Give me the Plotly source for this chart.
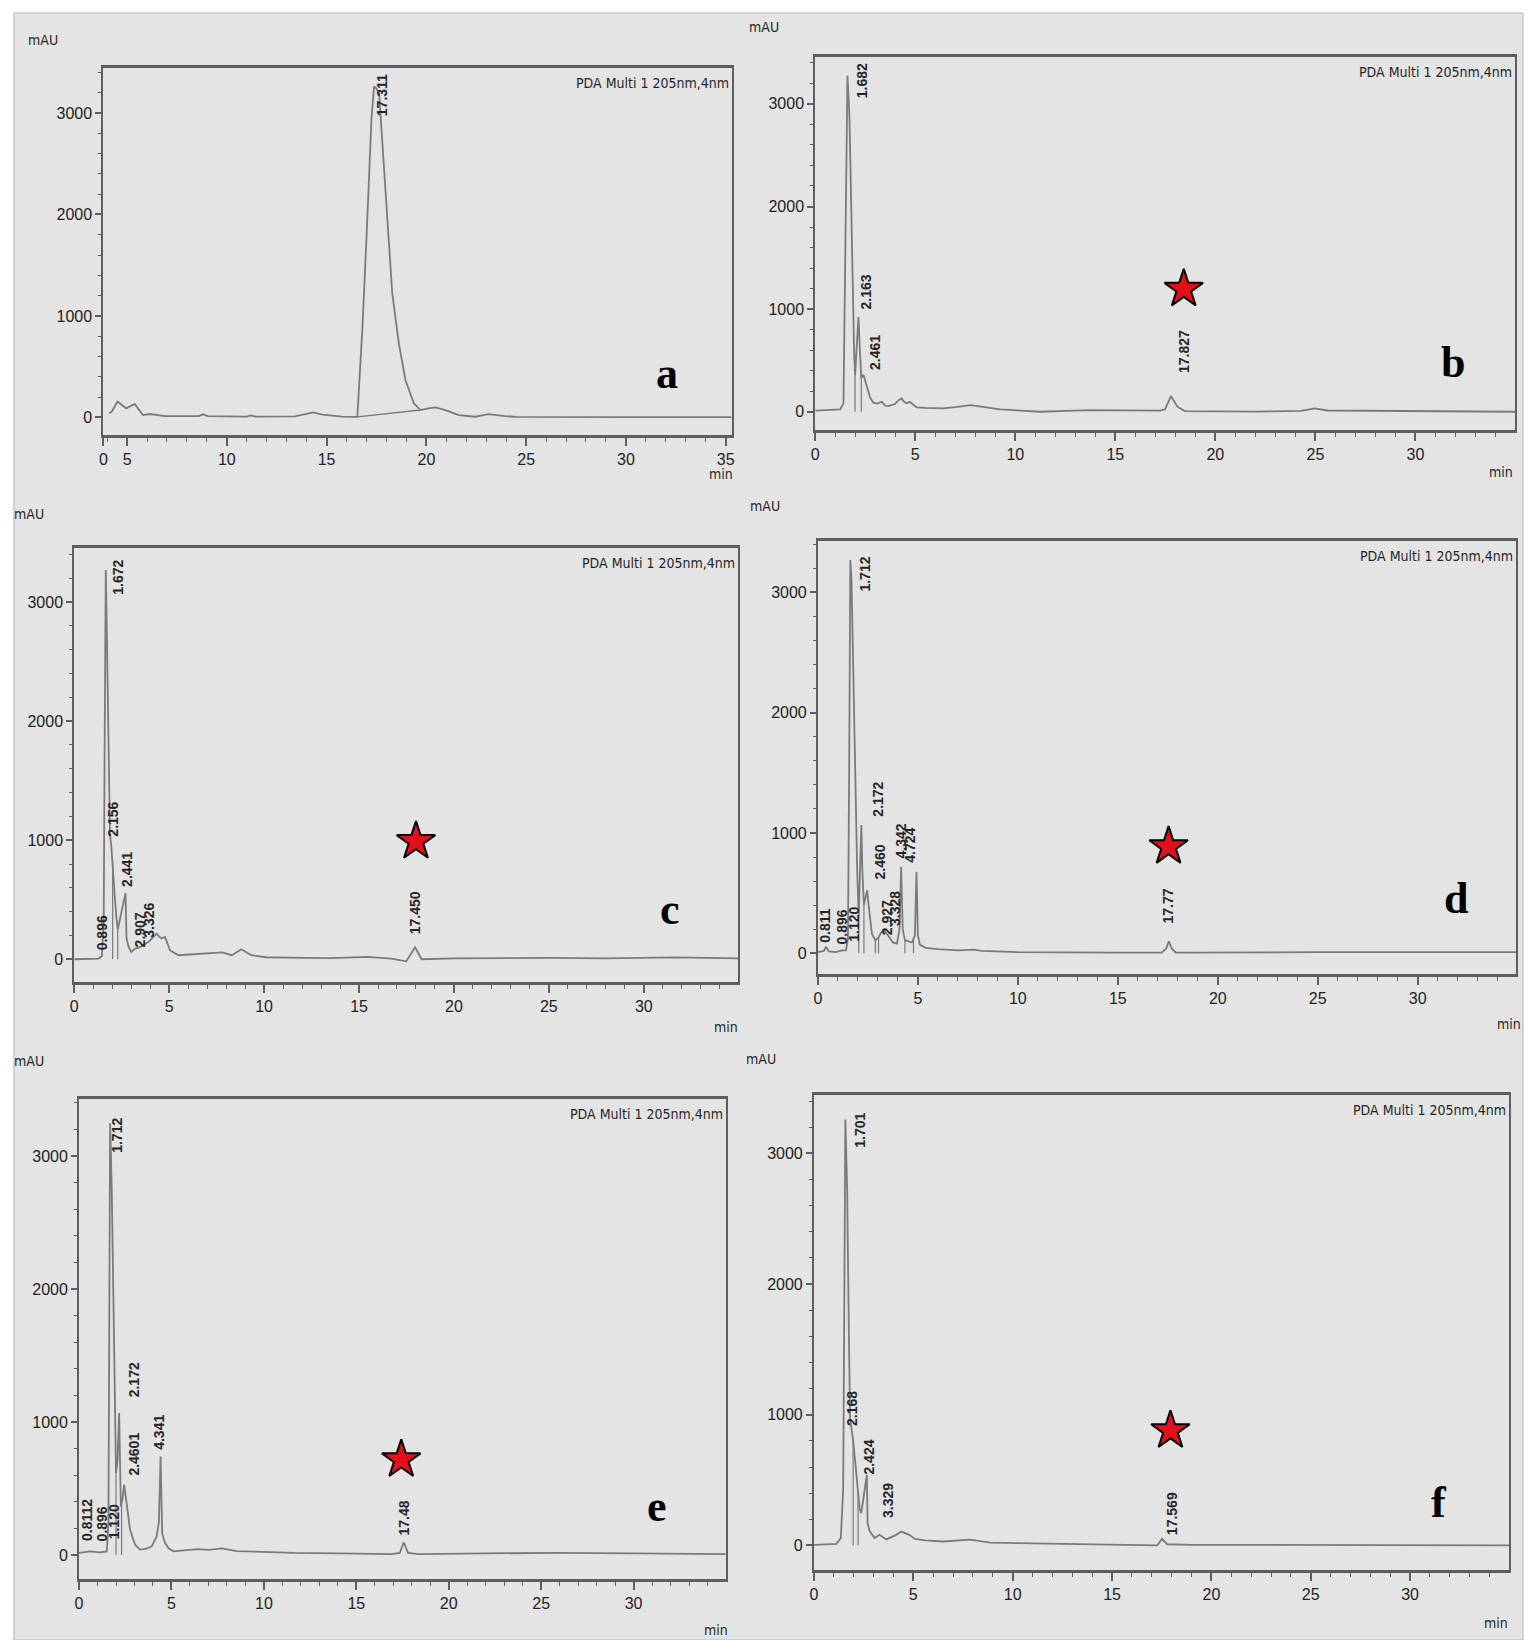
import numpy as np
import plotly.graph_objects as go

W, H = 1526, 1640
BG = '#e4e4e4'
LINE = '#7a7a7a'
FRAME = '#5e5e5e'
TXT = '#262626'

# ---------------- data (time [min], signal [mAU]) ----------------
t_a = [4.1, 4.23, 4.52, 4.95, 5.38, 5.79, 6.15, 6.9, 8.6, 8.8, 9.04, 11.0, 11.2, 11.44, 13.4, 13.85,
       14.33, 14.8, 15.77, 16.54, 16.8, 17.05, 17.25, 17.38, 17.5, 17.63, 17.79, 18.04, 18.29, 18.62,
       18.95, 19.37, 19.71, 20.1, 20.45, 20.95, 21.62, 22.45, 23.1, 23.94, 24.5, 30.0, 35.3]
y_a = [40, 56, 155, 89, 132, 23, 33, 13, 13, 30, 13, 7, 20, 7, 10, 26,
       49, 26, 7, 5, 900, 2000, 2950, 3263, 3240, 3198, 2705, 1882, 1224, 730,
       368, 138, 72, 89, 99, 72, 22, 6, 32, 13, 5, 3, 3]

t_b = [0, 1.245, 1.41, 1.52, 1.61, 1.71, 1.83, 1.94, 1.99, 2.08, 2.16, 2.24, 2.3, 2.41, 2.57, 2.74,
       2.9, 3.1, 3.32, 3.5, 3.65, 3.98, 4.15, 4.32, 4.45, 4.57, 4.73, 4.9, 5.06, 5.5, 6.39, 7.0, 7.75,
       8.3, 9.24, 11.24, 13.74, 17.23, 17.48, 17.78, 18.1, 18.47, 22.0, 24.3, 24.96, 25.6, 30.0, 35.0]
y_b = [10, 23, 82, 1600, 3275, 2870, 1573, 600, 357, 700, 924, 560, 330, 360, 250, 140,
       88, 80, 97, 60, 55, 75, 110, 130, 95, 82, 97, 70, 43, 38, 33, 45, 65,
       50, 23, 0, 16, 10, 23, 153, 49, 6, 2, 8, 33, 12, 5, 0]

t_c = [0, 1.28, 1.45, 1.55, 1.6, 1.66, 1.72, 1.8, 1.88, 1.95, 2.02, 2.1, 2.2, 2.29, 2.5, 2.7, 2.75,
       2.85, 3.0, 3.2, 3.45, 3.73, 3.95, 4.17, 4.34, 4.47, 4.6, 4.78, 4.9, 5.04, 5.48, 6.0, 6.7, 7.4,
       7.79, 8.3, 8.8, 9.32, 10.1, 12.1, 13.5, 15.45, 16.7, 17.49, 17.95, 18.3, 20.0, 25.0, 28.0, 31.6, 35.0]
y_c = [0, 6, 25, 300, 1800, 3269, 2700, 1700, 1050, 950, 800, 560, 380, 250, 400, 555, 180,
       110, 60, 90, 100, 132, 150, 187, 216, 190, 174, 187, 140, 76, 34, 40, 48, 53,
       58, 34, 84, 34, 17, 12, 10, 20, 6, -17, 101, 0, 8, 12, 8, 15, 8]

t_d = [0, 0.3, 0.4, 0.55, 0.9, 1.2, 1.4, 1.5, 1.56, 1.62, 1.68, 1.75, 1.84, 1.96, 2.04, 2.1, 2.17,
       2.22, 2.3, 2.4, 2.46, 2.52, 2.6, 2.7, 2.87, 3.03, 3.15, 3.3, 3.5, 3.75, 3.95, 4.08, 4.16, 4.24,
       4.35, 4.5, 4.7, 4.85, 4.93, 5.0, 5.1, 5.4, 6.0, 7.0, 7.8, 8.2, 10.0, 15.0, 17.2, 17.42, 17.55,
       17.7, 17.9, 25.0, 30.0, 34.94]
y_d = [10, 20, 55, 15, 10, 25, 25, 120, 1500, 3268, 3100, 2500, 1537, 706, 300, 600, 1066,
       700, 400, 480, 525, 420, 280, 160, 110, 130, 170, 190, 150, 90, 80, 200, 719, 200,
       110, 100, 90, 150, 677, 150, 70, 45, 35, 25, 30, 20, 10, 5, 5, 40, 100,
       40, 5, 10, 8, 10]

t_e = [0, 0.61, 1.14, 1.5, 1.59, 1.68, 1.77, 1.9, 2.0, 2.08, 2.17, 2.26, 2.35, 2.44, 2.58, 2.76,
       3.03, 3.3, 3.6, 3.93, 4.2, 4.32, 4.41, 4.5, 4.65, 4.85, 5.1, 5.8, 6.42, 7.0, 7.73, 8.52, 10.0,
       11.66, 14.0, 16.9, 17.35, 17.56, 17.8, 18.35, 22.0, 26.0, 30.0, 35.0]
y_e = [15, 27, 20, 27, 240, 3248, 2747, 1493, 617, 700, 1068, 365, 420, 529, 365, 190,
       77, 40, 45, 65, 140, 250, 741, 160, 90, 50, 27, 35, 44, 38, 50, 29, 22,
       15, 12, 6, 15, 94, 15, 6, 12, 15, 12, 6]

t_f = [0, 1.13, 1.35, 1.47, 1.58, 1.67, 1.75, 1.82, 1.97, 2.05, 2.18, 2.3, 2.38, 2.5, 2.66, 2.7,
       2.8, 3.05, 3.3, 3.64, 4.14, 4.39, 4.64, 4.8, 5.08, 5.58, 6.5, 7.86, 8.86, 11.37, 14.0, 16.39,
       17.27, 17.52, 17.77, 19.0, 25.0, 30.0, 35.0]
y_f = [5, 12, 56, 426, 3259, 2723, 1702, 962, 808, 681, 477, 280, 247, 380, 540, 170,
       110, 56, 81, 46, 81, 106, 94, 81, 50, 38, 30, 45, 21, 15, 10, 6,
       0, 51, 9, 5, 5, 3, 0]

# peak labels: (text, time, mAU at label start)
labels_a = [("17.311", 17.79, 2952)]
labels_b = [("1.682", 2.34, 3032), ("2.163", 2.54, 973), ("2.461", 3.02, 389), ("17.827", 18.4, 357)]
labels_c = [("1.672", 2.33, 3045), ("2.156", 2.02, 1014), ("2.441", 2.77, 594), ("0.896", 1.45, 61),
            ("2.907", 3.47, 80), ("3.326", 3.94, 160), ("17.450", 17.92, 193)]
labels_d = [("1.712", 2.34, 2992), ("2.172", 2.99, 1121), ("2.460", 3.12, 595), ("4.342", 4.15, 775),
            ("4.724", 4.61, 733), ("0.811", 0.38, 68), ("0.896", 1.21, 54), ("1.120", 1.79, 82),
            ("2.927", 3.45, 137), ("3.328", 3.86, 207), ("17.77", 17.52, 229)]
labels_e = [("1.712", 2.08, 3010), ("2.172", 2.98, 1168), ("2.4601", 2.98, 579), ("4.341", 4.32, 779),
            ("0.8112", 0.43, 90), ("0.896", 1.29, 90), ("1.120", 1.86, 102), ("17.48", 17.56, 132)]
labels_f = [("1.701", 2.3, 3029), ("2.168", 1.88, 898), ("2.424", 2.75, 528), ("3.329", 3.76, 196),
            ("17.569", 18.02, 60)]

# peak-separation drop lines (times)
drops_b = [1.99, 2.3]
drops_c = [2.02, 2.29]
drops_d = [2.04, 2.3, 2.87, 3.03, 4.35, 4.78]
drops_e = [2.0, 2.3]
drops_f = [1.97, 2.22]

# integration baseline under the main peak of panel a
base_a_t = [16.54, 19.71]
base_a_y = [5, 72]

# red star markers (time, mAU)
stars = {'b': (18.42, 1195), 'c': (18.0, 990), 'd': (17.54, 888), 'e': (17.43, 717), 'f': (17.94, 879)}
# panel letter positions (time, mAU)
letters = {'a': (32.05, 437), 'b': (31.86, 483), 'c': (31.4, 420), 'd': (31.9, 459),
           'e': (31.27, 365), 'f': (31.46, 326)}

# ---------------- layout geometry (pixels) ----------------
panels = [
    dict(k='a', t=t_a, y=y_a, lab=labels_a, drops=[], box=(99.8, 68, 731, 435),
         xr=[3.81, 35.3], yr=[-174, 3444], mau=(39, 40), mn=(720, 474)),
    dict(k='b', t=t_b, y=y_b, lab=labels_b, drops=drops_b, box=(815, 57, 1518, 430),
         xr=[0, 34.98], yr=[-178, 3457], mau=(763, 27), mn=(1504, 472)),
    dict(k='c', t=t_c, y=y_c, lab=labels_c, drops=drops_c, box=(70.6, 548, 737.7, 982),
         xr=[0, 34.98], yr=[-191, 3454], mau=(25, 514), mn=(725, 1027)),
    dict(k='d', t=t_d, y=y_d, lab=labels_d, drops=drops_d, box=(817.7, 541, 1519.4, 974),
         xr=[0, 34.94], yr=[-172, 3427], mau=(765, 506), mn=(1512, 1024)),
    dict(k='e', t=t_e, y=y_e, lab=labels_e, drops=drops_e, box=(75.4, 1099, 725, 1579),
         xr=[0, 34.98], yr=[-181, 3430], mau=(25, 1061), mn=(715, 1630)),
    dict(k='f', t=t_f, y=y_f, lab=labels_f, drops=drops_f, box=(813.7, 1095, 1512, 1570),
         xr=[0, 34.98], yr=[-188, 3447], mau=(760, 1059), mn=(1499, 1623)),
]

TICKFONT = dict(family='Liberation Sans, Arial, sans-serif', size=16, color='#222222')
NARROW = 'DejaVu Sans Condensed, Liberation Sans Narrow, Arial Narrow, Liberation Sans, Arial, sans-serif'

fig = go.Figure()
annotations = []
layout = dict(width=W, height=H, margin=dict(l=0, r=0, t=0, b=0),
              paper_bgcolor='white', plot_bgcolor=BG, showlegend=False)

for i, p in enumerate(panels, start=1):
    suf = '' if i == 1 else str(i)
    xa, ya = 'x' + suf, 'y' + suf
    l, t, r, b = p['box']
    xkey, ykey = 'xaxis' + suf, 'yaxis' + suf
    xdict = dict(domain=[l / W, r / W], range=p['xr'], anchor=ya, showline=True, linewidth=3,
                 linecolor=FRAME, mirror=True, ticks='outside', ticklen=8, tickwidth=1.5,
                 tickcolor=FRAME, showgrid=False, zeroline=False, tickfont=TICKFONT,
                 minor=dict(tickmode='linear', tick0=0, dtick=1, ticks='outside', ticklen=4,
                            tickwidth=1, tickcolor=FRAME, showgrid=False))
    if p['k'] == 'a':
        xdict.update(tickmode='array', tickvals=[p['xr'][0], 5, 10, 15, 20, 25, 30, 35],
                     ticktext=['0', '5', '10', '15', '20', '25', '30', '35'])
    else:
        xdict.update(tickmode='linear', tick0=0, dtick=5)
    ydict = dict(domain=[1 - b / H, 1 - t / H], range=p['yr'], anchor=xa, showline=True,
                 linewidth=2, linecolor=FRAME, mirror=True, ticks='outside', ticklen=6,
                 tickwidth=1.5, tickcolor=FRAME, showgrid=False, zeroline=False,
                 tickmode='linear', tick0=0, dtick=1000, tickfont=TICKFONT,
                 minor=dict(tickmode='linear', tick0=0, dtick=200, ticks='outside', ticklen=3,
                            tickwidth=1, tickcolor=FRAME, showgrid=False))
    layout[xkey] = xdict
    layout[ykey] = ydict

    # chromatogram trace
    fig.add_trace(go.Scatter(x=p['t'], y=p['y'], mode='lines', xaxis=xa, yaxis=ya,
                             line=dict(color=LINE, width=1.8), hoverinfo='skip'))
    # drop lines
    if p['drops']:
        dx, dy = [], []
        for td in p['drops']:
            yv = float(np.interp(td, p['t'], p['y']))
            dx += [td, td, None]
            dy += [0, yv, None]
        fig.add_trace(go.Scatter(x=dx, y=dy, mode='lines', xaxis=xa, yaxis=ya,
                                 line=dict(color=LINE, width=1.2), hoverinfo='skip'))
    if p['k'] == 'a':
        fig.add_trace(go.Scatter(x=base_a_t, y=base_a_y, mode='lines', xaxis=xa, yaxis=ya,
                                 line=dict(color=LINE, width=1.4), hoverinfo='skip'))
    # star
    if p['k'] in stars:
        sx, sy = stars[p['k']]
        fig.add_trace(go.Scatter(x=[sx], y=[sy], mode='markers', xaxis=xa, yaxis=ya,
                                 marker=dict(symbol='star', size=29, color='#e3101c',
                                             line=dict(color='black', width=2)),
                                 hoverinfo='skip'))
    # peak labels
    for txt, lx, ly in p['lab']:
        annotations.append(dict(xref=xa, yref=ya, x=lx, y=ly, text=f'<b>{txt}</b>', textangle=-90,
                                xanchor='center', yanchor='bottom', showarrow=False,
                                font=dict(family='Liberation Sans, Arial, sans-serif', size=14,
                                          color=TXT)))
    # panel letter
    lx, ly = letters[p['k']]
    annotations.append(dict(xref=xa, yref=ya, x=lx, y=ly, text=f"<b>{p['k']}</b>",
                            xanchor='center', yanchor='middle', showarrow=False,
                            font=dict(family='Liberation Serif, Times New Roman, serif', size=44,
                                      color='black')))
    # detector text
    annotations.append(dict(xref=f'{xa} domain', yref=f'{ya} domain', x=1, y=1,
                            xanchor='right', yanchor='top', yshift=-5, xshift=-1,
                            text='PDA Multi 1 205nm,4nm', showarrow=False,
                            font=dict(family=NARROW, size=14, color=TXT)))
    # unit labels
    mx, my = p['mau']
    annotations.append(dict(xref='paper', yref='paper', x=mx / W, y=1 - my / H, text='mAU',
                            xanchor='center', yanchor='middle', showarrow=False,
                            font=dict(family=NARROW, size=14, color=TXT)))
    nx, ny = p['mn']
    annotations.append(dict(xref='paper', yref='paper', x=nx / W, y=1 - ny / H, text='min',
                            xanchor='center', yanchor='middle', showarrow=False,
                            font=dict(family=NARROW, size=14, color=TXT)))

layout['annotations'] = annotations
layout['shapes'] = [dict(type='rect', xref='paper', yref='paper', x0=10 / W, x1=1,
                         y0=0, y1=1 - 13 / H, fillcolor=BG, line=dict(color='#b5b5b5', width=1),
                         layer='below')]
fig.update_layout(**layout)
fig.write_html('out.html', config={'displayModeBar': False})

# remove the default page margin so the figure sits at the window's top-left corner
with open('out.html', 'r', encoding='utf-8') as fh:
    html = fh.read()
html = html.replace('<head>', '<head><style>html,body{margin:0;padding:0;overflow:hidden;}</style>', 1)
with open('out.html', 'w', encoding='utf-8') as fh:
    fh.write(html)
